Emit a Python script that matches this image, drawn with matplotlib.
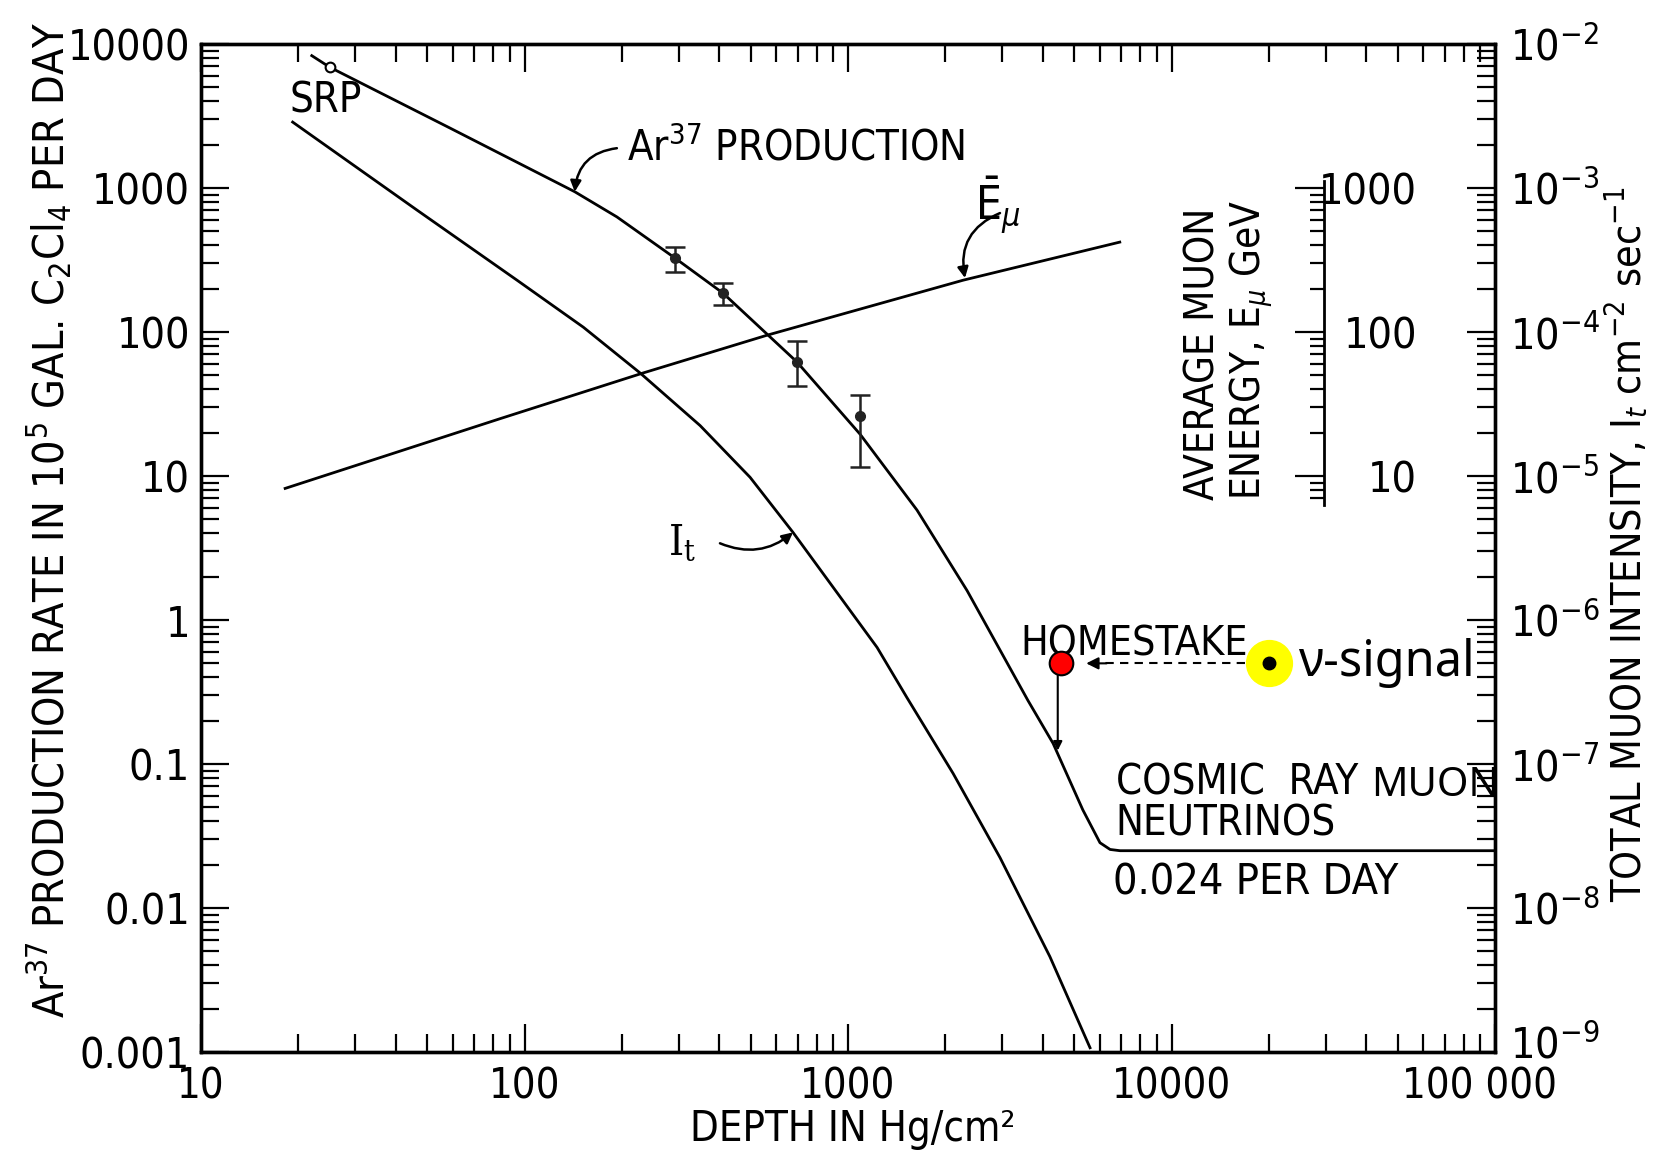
import matplotlib
matplotlib.use("Agg")
import matplotlib.pyplot as plt
from matplotlib import font_manager as fm
from matplotlib.ticker import LogLocator, NullFormatter
from matplotlib.transforms import ScaledTranslation

# ---------------- data ----------------
# Ar37 production curve (depth hg/cm^2, rate per day in 1e5 gal C2Cl4)
ar_depth = [22, 25, 59, 143, 193, 292, 411, 695, 1090, 1634, 2334, 3600, 4305,
            5320, 6010, 6460, 6930, 100000]
ar_rate = [8300, 6900, 2600, 942, 630, 326, 186, 62, 19.5, 5.8, 1.6, 0.276, 0.139,
           0.048, 0.0284, 0.0255, 0.025, 0.025]

# measured Ar37 points with error bars
meas_depth = [292, 411, 695, 1090]
meas_rate = [326, 186, 62, 26]
meas_low = [260, 155, 42, 11.5]
meas_high = [390, 219, 86, 36.6]

# SRP point
srp_depth = [25.1]
srp_rate = [6900]

# Total muon intensity I_t (cm^-2 s^-1), right axis
it_depth = [19.2, 46.5, 94.8, 152, 228, 349, 498, 676, 1230, 1520, 2113,
            2950, 4207, 5600]
it_value = [2.87e-3, 7.03e-4, 2.29e-4, 1.08e-4, 5.18e-5, 2.24e-5, 9.8e-6,
            4.06e-6, 6.45e-7, 2.9e-7, 8.6e-8, 2.24e-8, 4.6e-9, 1.07e-9]

# Average muon energy E_mu (GeV), same log scale as left axis
emu_depth = [18.2, 84, 233, 562, 2270, 6920]
emu_energy = [8.2, 25, 52, 95, 229, 421]

# Homestake and the neutrino signal marker
homestake_depth = [4550]
homestake_rate = [0.5]
signal_depth = [20000]
signal_rate = [0.5]

# tick labels
x_ticks = [10, 100, 1000, 10000, 100000]
x_labels = ["10", "100", "1000", "10000", "100 000"]
y_ticks = [0.001, 0.01, 0.1, 1, 10, 100, 1000, 10000]
y_labels = ["0.001", "0.01", "0.1", "1", "10", "100", "1000", "10000"]
r_ticks = [1e-9, 1e-8, 1e-7, 1e-6, 1e-5, 1e-4, 1e-3, 1e-2]
r_labels = ["$10^{-9}$", "$10^{-8}$", "$10^{-7}$", "$10^{-6}$", "$10^{-5}$",
            "$10^{-4}$", "$10^{-3}$", "$10^{-2}$"]
e_ticks = [10, 100, 1000]
e_labels = ["10", "100", "1000"]


# ---------------- font: try to find a narrow sans ----------------
def pick_narrow():
    cands = [("Liberation Sans Narrow", "normal"), ("DejaVu Sans", "condensed"),
             ("Noto Sans", "condensed"), ("Open Sans", "condensed"),
             ("Roboto", "condensed"), ("Lato", "condensed"), ("Inter", "condensed")]
    for fam, st in cands:
        try:
            path = fm.findfont(fm.FontProperties(family=fam, stretch=st),
                               fallback_to_default=False)
        except Exception:
            continue
        low = path.lower()
        if "narrow" in low or "condensed" in low:
            return fam, st, True
    return "DejaVu Sans", "normal", False


FAM, STRETCH, IS_NARROW = pick_narrow()
K = 1.0 if IS_NARROW else 0.84   # shrink text if no narrow face exists

plt.rcParams["font.family"] = [FAM, "DejaVu Sans"]
plt.rcParams["font.stretch"] = STRETCH
try:
    plt.rcParams["mathtext.fontset"] = "custom"
    plt.rcParams["mathtext.rm"] = f"{FAM}:stretch={STRETCH}"
    plt.rcParams["mathtext.it"] = f"{FAM}:italic:stretch={STRETCH}"
    plt.rcParams["mathtext.bf"] = f"{FAM}:bold:stretch={STRETCH}"
except Exception:
    plt.rcParams["mathtext.fontset"] = "dejavusans"
plt.rcParams["axes.linewidth"] = 2.4

LW = 2.0
FS = 30 * K
TICK_FS = 31 * K

fig = plt.figure(figsize=(16.62, 11.52), dpi=100)
ax = fig.add_axes([0.12094, 0.0868, 0.77858, 0.8750])
ax.set_xscale("log")
ax.set_yscale("log")
ax.set_xlim(10, 100000)
ax.set_ylim(0.001, 10000)

ax2 = ax.twinx()
ax2.set_yscale("log")
ax2.set_ylim(1e-9, 1e-2)

# curves
ax.plot(ar_depth, ar_rate, color="black", lw=LW, solid_joinstyle="round")
ax.plot(emu_depth, emu_energy, color="black", lw=LW, solid_joinstyle="round")
ax2.plot(it_depth, it_value, color="black", lw=LW, solid_joinstyle="round")

yerr = [[r - lo for r, lo in zip(meas_rate, meas_low)],
        [hi - r for r, hi in zip(meas_rate, meas_high)]]
ax.errorbar(meas_depth, meas_rate, yerr=yerr, fmt="o", color="#222222", ms=7,
            capsize=7, elinewidth=1.8, capthick=1.8)
ax.plot(srp_depth, srp_rate, "o", mfc="white", mec="black", ms=7, mew=1.5)

# ---------------- ticks ----------------
ax.set_xticks(x_ticks, x_labels)
ax.set_yticks(y_ticks, y_labels)
ax.xaxis.set_minor_locator(LogLocator(base=10, subs=range(2, 10), numticks=20))
ax.yaxis.set_minor_locator(LogLocator(base=10, subs=range(2, 10), numticks=20))
ax.xaxis.set_minor_formatter(NullFormatter())
ax.yaxis.set_minor_formatter(NullFormatter())
ax.tick_params(which="both", direction="in", top=True, right=False, width=1.6,
               labelsize=TICK_FS)
ax.tick_params(which="major", length=20)
ax.tick_params(which="minor", length=13)
ax.tick_params(axis="y", pad=8)
ax.tick_params(axis="x", pad=10, labelsize=30 * K)

ax2.set_yticks(r_ticks, r_labels)
ax2.yaxis.set_minor_locator(LogLocator(base=10, subs=range(2, 10), numticks=20))
ax2.yaxis.set_minor_formatter(NullFormatter())
ax2.tick_params(which="both", direction="in", width=1.6, labelsize=TICK_FS, pad=11)
ax2.tick_params(which="major", length=20)
ax2.tick_params(which="minor", length=13)

# ---------------- axis labels ----------------
ax.set_xlabel("DEPTH IN Hg/cm\u00b2", fontsize=30 * K)
ax.xaxis.set_label_coords(0.504, -0.097)
ax.xaxis.label.set_va("bottom")
ax.set_ylabel("Ar$^{37}$ PRODUCTION RATE IN 10$^5$ GAL. C$_2$Cl$_4$ PER DAY",
              fontsize=31 * K)
ax.yaxis.set_label_coords(-0.117, 0.528)
ax.yaxis.label.set_va("center")
ax2.set_ylabel("TOTAL MUON INTENSITY, I$_t$ cm$^{-2}$ sec$^{-1}$", fontsize=29.5 * K)
ax2.yaxis.set_label_coords(1.102, 0.504)
ax2.yaxis.label.set_va("center")

# ---------------- energy scale ----------------
ax_e = ax.inset_axes([29600, 6.3, 1, 1113.7], transform=ax.transData)
ax_e.patch.set_visible(False)
ax_e.set_yscale("log")
ax_e.set_ylim(6.3, 1120)
for s in ["top", "bottom", "left"]:
    ax_e.spines[s].set_visible(False)
ax_e.spines["right"].set_linewidth(2.0)
ax_e.set_xticks([])
ax_e.set_yticks(e_ticks, e_labels)
ax_e.yaxis.set_minor_locator(LogLocator(base=10, subs=range(2, 10), numticks=20))
ax_e.yaxis.set_minor_formatter(NullFormatter())
ax_e.tick_params(axis="y", which="both", direction="in", left=False, right=True,
                 labelleft=False, labelright=True, width=1.6, labelsize=TICK_FS,
                 pad=67)
ax_e.tick_params(axis="y", which="major", length=21)
ax_e.tick_params(axis="y", which="minor", length=10)
for lab in ax_e.get_yticklabels():
    lab.set_ha("right")

ax.text(12600, 6.78, "AVERAGE MUON", rotation=90, ha="center", va="bottom",
        fontsize=29 * K)
ax.text(17600, 6.78, "ENERGY, E$_\\mu$ GeV", rotation=90, ha="center", va="bottom",
        fontsize=29 * K)

# small offsets of two edge tick labels (as in the original drawing)
lab_last = ax.get_xticklabels()[-1]
lab_last.set_transform(lab_last.get_transform()
                       + ScaledTranslation(-16 / 100, 0, fig.dpi_scale_trans))
lab_first = ax2.get_yticklabels()[0]
lab_first.set_transform(lab_first.get_transform()
                        + ScaledTranslation(0, 10 / 100, fig.dpi_scale_trans))

# ---------------- annotations ----------------
arrow_kw = dict(arrowstyle="-|>", color="black", lw=1.8, mutation_scale=16,
                shrinkA=0, shrinkB=0)
ax.text(18.8, 4080, "SRP", fontsize=FS, ha="left", va="center")
ax.text(207, 1563, "Ar$^{37}$ PRODUCTION", fontsize=FS, ha="left", va="baseline")
ax.annotate("", xy=(143, 942), xytext=(193, 1890),
            arrowprops=dict(connectionstyle="arc3,rad=0.4", **arrow_kw))
ax.text(2470, 760, "$\\bar{\\mathrm{E}}_{\\mu}$", fontsize=33 * K, ha="left",
        va="center")
ax.annotate("", xy=(2300, 237), xytext=(2950, 670),
            arrowprops=dict(connectionstyle="arc3,rad=0.4", **arrow_kw))
ax.text(278, 3.46, "$\\mathrm{I}_\\mathrm{t}$", fontsize=31, ha="left", va="center",
        math_fontfamily="dejavuserif")
ax.annotate("", xy=(676, 4.06), xytext=(402, 3.41),
            arrowprops=dict(connectionstyle="arc3,rad=0.3", **arrow_kw))

ax.text(3400, 0.567, "HOMESTAKE", fontsize=29.5 * K, ha="left", va="baseline")
ax.text(6730, 0.0743, "COSMIC  RAY", fontsize=FS, ha="left", va="center")
ax.text(41400, 0.070, "MUON", fontsize=29 * K, ha="left", va="center",
        family=["Noto Sans", "DejaVu Sans"], stretch="normal")
ax.text(6730, 0.0386, "NEUTRINOS", fontsize=FS, ha="left", va="center")
ax.text(6590, 0.0150, "0.024 PER DAY", fontsize=31 * K, ha="left", va="center")

# Homestake arrow down to the curve, red dot
ax.annotate("", xy=(4450, 0.124), xytext=(4450, 0.5),
            arrowprops=dict(arrowstyle="-|>", color="black", lw=1.5,
                            mutation_scale=13, shrinkA=0, shrinkB=0))
ax.plot(homestake_depth, homestake_rate, "o", color="red", mec="black", mew=1.5,
        ms=17, zorder=5)

# signal marker and dashed arrow
ax.plot([16900, 6100], [0.5, 0.5], color="black", lw=1.5, ls=(0, (4, 3)))
ax.annotate("", xy=(5450, 0.5), xytext=(6300, 0.5),
            arrowprops=dict(arrowstyle="-|>", color="black", lw=1.5,
                            mutation_scale=18, shrinkA=0, shrinkB=0))
ax.plot(signal_depth, signal_rate, "o", color="yellow", mec="yellow", ms=33, zorder=5)
ax.plot(signal_depth, signal_rate, "o", color="black", ms=9, zorder=6)
ax.text(24600, 0.5, "\u03bd-signal", fontsize=35, ha="left", va="center",
        family=["Noto Sans", "DejaVu Sans"], stretch="normal")

fig.savefig("out.png", dpi=100, facecolor="white")
